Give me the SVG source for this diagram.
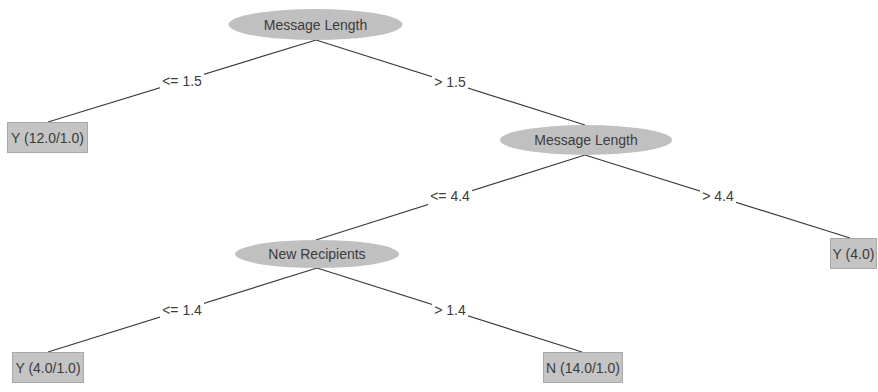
<svg xmlns="http://www.w3.org/2000/svg" width="878" height="392" viewBox="0 0 878 392">
<style>
  .edge{stroke:#3a3a3a;stroke-width:1.2;fill:none}
  .ell{fill:#c0c0c0;stroke:none}
  .box{fill:#c4c4c4;stroke:#a8a8a8;stroke-width:1}
  .t{font-family:"Liberation Sans",Arial,sans-serif;font-size:14px;fill:#3c3c3c;text-anchor:middle}
  .lbg{fill:#ffffff}
</style>
<rect width="878" height="392" fill="#ffffff"/>
<g id="connectors">
  <line class="edge" x1="316" y1="40" x2="48" y2="122"/>
  <line class="edge" x1="316" y1="40" x2="585" y2="125"/>
  <line class="edge" x1="585" y1="155" x2="316" y2="240"/>
  <line class="edge" x1="585" y1="155" x2="850" y2="238"/>
  <line class="edge" x1="317" y1="268" x2="48" y2="352"/>
  <line class="edge" x1="317" y1="268" x2="582" y2="352"/>
  <rect class="lbg" x="160" y="72" width="44" height="18"/>
  <text class="t" x="182" y="86">&lt;= 1.5</text>
  <rect class="lbg" x="432" y="73" width="36" height="18"/>
  <text class="t" x="450" y="87">&gt; 1.5</text>
  <rect class="lbg" x="428" y="187" width="44" height="18"/>
  <text class="t" x="450" y="201">&lt;= 4.4</text>
  <rect class="lbg" x="700" y="187" width="36" height="18"/>
  <text class="t" x="718" y="201">&gt; 4.4</text>
  <rect class="lbg" x="160" y="301" width="44" height="18"/>
  <text class="t" x="182" y="315">&lt;= 1.4</text>
  <rect class="lbg" x="432" y="301" width="36" height="18"/>
  <text class="t" x="450" y="315">&gt; 1.4</text>
</g>
<g id="n_root">
  <ellipse class="ell" cx="315.5" cy="24.5" rx="87" ry="15.5"/>
  <text class="t" x="315.5" y="29.5">Message Length</text>
</g>
<g id="n_y12">
  <rect class="box" x="7.5" y="122.5" width="80" height="30"/>
  <text class="t" x="47.5" y="142.5">Y (12.0/1.0)</text>
</g>
<g id="n_ml2">
  <ellipse class="ell" cx="586" cy="140" rx="86" ry="15"/>
  <text class="t" x="586" y="145">Message Length</text>
</g>
<g id="n_nr">
  <ellipse class="ell" cx="317" cy="254" rx="82" ry="14"/>
  <text class="t" x="317" y="259">New Recipients</text>
</g>
<g id="n_y4">
  <rect class="box" x="830.5" y="238.5" width="46" height="30"/>
  <text class="t" x="853.5" y="258.5">Y (4.0)</text>
</g>
<g id="n_y41">
  <rect class="box" x="12.5" y="352.5" width="71" height="30"/>
  <text class="t" x="48" y="372.5">Y (4.0/1.0)</text>
</g>
<g id="n_n14">
  <rect class="box" x="543.5" y="352.5" width="79" height="30"/>
  <text class="t" x="583" y="372.5">N (14.0/1.0)</text>
</g>
</svg>
